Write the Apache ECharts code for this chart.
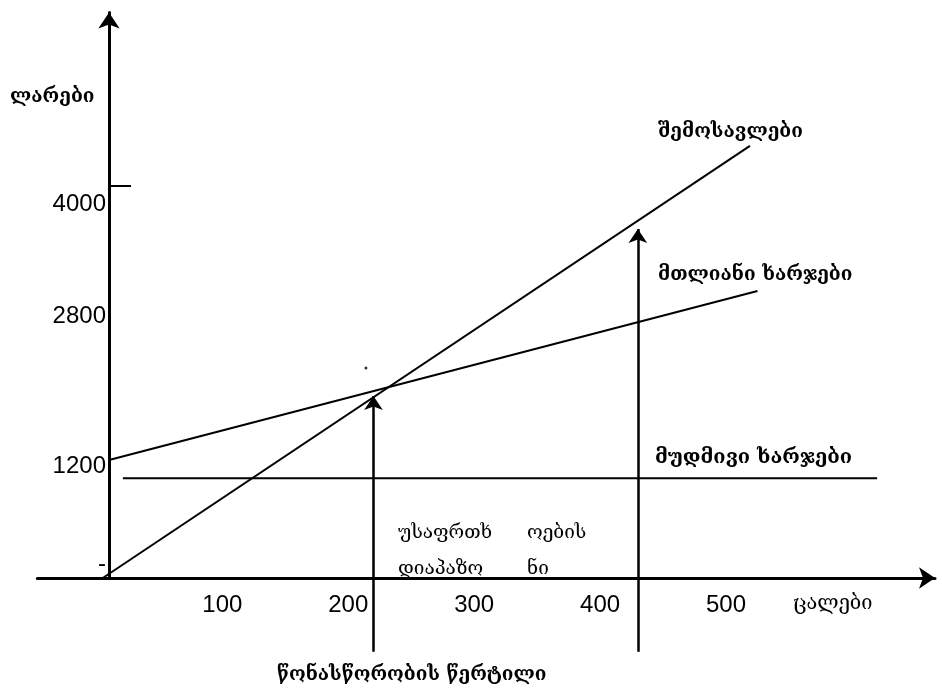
<!DOCTYPE html>
<html>
<head>
<meta charset="utf-8">
<script src="https://cdn.jsdelivr.net/npm/echarts@6/dist/echarts.min.js"></script>
<style>
html,body{margin:0;padding:0;background:#fff;}
#chart{width:942px;height:688px;}
</style>
</head>
<body>
<div id="chart"></div>
<script>
// ---- data (chart units: x = units, y = lari) ----
const xTickValues = [100, 200, 300, 400, 500];
const yTickValues = [150, 1200, 2800, 4000];
const yTickTexts = ['-', '1200', '2800', '4000'];
const yMarkTick = [4200];
const revenue = [[5, 0], [519, 4630]];
const totalCosts = [[10, 1265], [525, 3075]];
const fixedCosts = [[21, 1070], [620, 1070]];
const breakEvenArrow = [[220, -790], [220, 1950]];
const marginArrow = [[430, -790], [430, 3740]];
const strayDot = [[214, 2250]];

const yName = 'ლარები';
const xName = 'ცალები';
const revenueName = 'შემოსავლები';
const totalName = 'მთლიანი ხარჯები';
const fixedName = 'მუდმივი ხარჯები';
const safetyWords = ['უსაფრთხ', 'ოების', 'დიაპაზო', 'ნი'];
const breakEvenName = 'წონასწორობის წერტილი';

const geoFont = '"DejaVu Serif", "DejaVu Sans", serif';
const numFont = '"Liberation Sans", Arial, sans-serif';

const chart = echarts.init(document.getElementById('chart'), null, {renderer: 'canvas'});

function geoText(text, x, y, size, weight) {
  return {
    type: 'text', x: x, y: y, silent: true,
    style: {text: text, font: (weight || 'normal') + ' ' + size + 'px ' + geoFont,
            fill: '#000', textAlign: 'left', textVerticalAlign: 'middle'}
  };
}

const lineStyle = {color: '#000', width: 2};
const gridLeft = 37.3;
const yAxisPx = 109;

chart.setOption({
  animation: false,
  backgroundColor: '#fff',
  grid: {left: gridLeft, right: 7, top: 12.4, bottom: 110,
         containLabel: false, outerBoundsMode: 'none'},
  xAxis: {
    type: 'value', min: -47, max: 666,
    axisLine: {onZero: false, lineStyle: {color: '#000', width: 3},
               symbol: ['none', 'arrow'], symbolSize: [16, 16]},
    axisTick: {show: false},
    splitLine: {show: false},
    axisLabel: {customValues: xTickValues, color: '#000', fontSize: 24,
                fontFamily: numFont, margin: 15}
  },
  yAxis: {
    type: 'value', min: 0, max: 6060,
    offset: -(yAxisPx - gridLeft),
    axisLine: {onZero: false, lineStyle: {color: '#000', width: 3},
               symbol: ['none', 'arrow'], symbolSize: [16, 16]},
    axisTick: {show: true, customValues: yMarkTick, inside: true, length: 22,
               lineStyle: {color: '#000', width: 2}},
    splitLine: {show: false},
    axisLabel: {customValues: yTickValues, color: '#000', fontSize: 24,
                fontFamily: numFont, margin: 3,
                formatter: function (v) {
                  const i = yTickValues.indexOf(v);
                  return i >= 0 ? yTickTexts[i] : '';
                }}
  },
  series: [
    {type: 'line', data: revenue, showSymbol: false, lineStyle: lineStyle, clip: false},
    {type: 'line', data: totalCosts, showSymbol: false, lineStyle: lineStyle, clip: false},
    {type: 'line', data: fixedCosts, showSymbol: false, lineStyle: lineStyle, clip: false},
    {type: 'lines', coordinateSystem: 'cartesian2d', clip: false,
     symbol: ['none', 'arrow'], symbolSize: 14,
     lineStyle: {color: '#000', width: 2.5, opacity: 1},
     data: [{coords: breakEvenArrow}, {coords: marginArrow}]},
    {type: 'scatter', data: strayDot, symbolSize: 3, itemStyle: {color: '#000'}}
  ],
  graphic: [
    geoText(yName, 10, 97, 19, 'bold'),
    geoText(revenueName, 658, 132, 19, 'bold'),
    geoText(totalName, 658, 275, 19, 'bold'),
    geoText(fixedName, 655, 458, 20, 'bold'),
    geoText(safetyWords[0], 398, 533, 19),
    geoText(safetyWords[1], 527, 533, 19),
    geoText(safetyWords[2], 398, 569, 19),
    geoText(safetyWords[3], 527, 569, 19),
    geoText(xName, 793, 604, 20),
    geoText(breakEvenName, 277, 675, 19, 'bold')
  ]
});
</script>
</body>
</html>
